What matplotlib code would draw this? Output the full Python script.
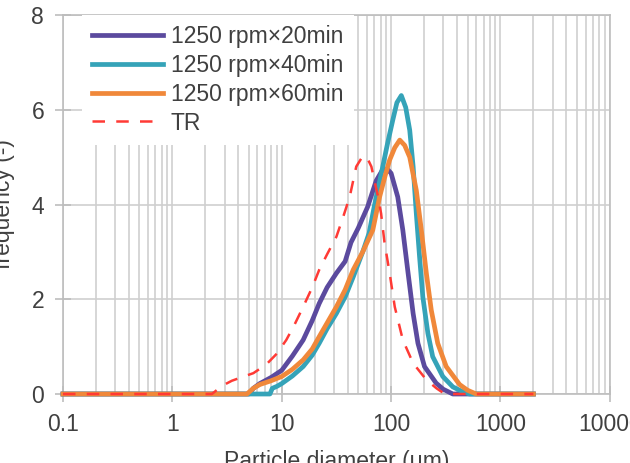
import matplotlib
matplotlib.use("Agg")
import matplotlib.pyplot as plt
from matplotlib.ticker import FixedLocator, FixedFormatter, LogLocator, NullFormatter

plt.rcParams['font.family'] = ['Liberation Sans', 'DejaVu Sans']

# particle size distributions
d_20 = [0.1, 5.0, 5.5, 6.3, 8, 10, 12.5, 15.7, 19, 22, 26, 31.6, 38, 43, 50, 61, 73, 83,
        92, 100, 115, 128, 143, 159, 176, 202, 258, 300, 367, 2000]
f_20 = [0, 0, 0.12, 0.22, 0.35, 0.5, 0.8, 1.14, 1.55, 1.91, 2.25, 2.55, 2.8, 3.2, 3.5, 3.95,
        4.5, 4.72, 4.75, 4.66, 4.16, 3.46, 2.55, 1.7, 1.07, 0.58, 0.23, 0.1, 0, 0]

d_40 = [0.1, 7.8, 8.2, 9, 10, 12.5, 15.7, 19, 22, 26, 31.6, 38, 45, 55, 63, 70, 83, 93,
        104, 113, 124, 136, 148, 159, 170, 182, 195, 217, 240, 297, 367, 440, 521, 2000]
f_40 = [0, 0, 0.12, 0.16, 0.22, 0.38, 0.58, 0.82, 1.07, 1.38, 1.7, 2.05, 2.47, 3.0, 3.4,
        3.95, 4.75, 5.3, 5.8, 6.15, 6.3, 6.05, 5.57, 4.8, 3.81, 2.9, 2.05, 1.28, 0.79, 0.37,
        0.15, 0.06, 0, 0]

d_60 = [0.1, 4.8, 5.5, 6.3, 8, 10, 12.5, 15.7, 19, 22, 26, 31.6, 38, 45, 55, 68, 78.5, 88,
        97, 108, 120, 133, 148, 170, 189, 210, 233, 267, 319, 423, 500, 600, 2000]
f_60 = [0, 0, 0.12, 0.2, 0.28, 0.37, 0.52, 0.72, 0.95, 1.21, 1.5, 1.84, 2.2, 2.62, 3.0, 3.46,
        4.16, 4.6, 4.94, 5.2, 5.36, 5.25, 5.0, 4.3, 3.46, 2.55, 1.77, 1.07, 0.58, 0.2, 0.08,
        0, 0]

d_tr = [0.1, 2.3, 2.6, 3.0, 3.5, 4.5, 5.5, 7.2, 9, 11, 13, 15.7, 19, 22, 26, 31.6, 36, 41.8,
        48, 55, 60, 66, 76, 81, 87, 97, 108, 128, 159, 210, 260, 310, 2000]
f_tr = [0, 0, 0.1, 0.2, 0.28, 0.37, 0.44, 0.62, 0.85, 1.14, 1.45, 1.84, 2.25, 2.62, 2.95,
        3.32, 3.7, 4.16, 4.8, 5.02, 5.0, 4.8, 4.16, 3.81, 3.2, 2.55, 1.84, 1.14, 0.65, 0.3,
        0.12, 0, 0]

labels = ['1250 rpm×20min', '1250 rpm×40min', '1250 rpm×60min', 'TR']
x_ticks = [0.1, 1, 10, 100, 1000, 10000]
x_ticklabels = ['0.1', '1', '10', '100', '1000', '10000']
y_ticks = [0, 2, 4, 6, 8]

txt = '#404040'
grid_c = '#CFCFCF'
fs = 16.5

fig = plt.figure(figsize=(6.3, 4.63), dpi=100)
ax = fig.add_axes([0.1, 0.149, 0.868, 0.8186])

ax.plot(d_20, f_20, color='#5B4A9E', lw=3.4, label=labels[0], clip_on=False, zorder=3)
ax.plot(d_40, f_40, color='#35A3B8', lw=3.4, label=labels[1], clip_on=False, zorder=3)
ax.plot(d_60, f_60, color='#F0883A', lw=3.4, label=labels[2], clip_on=False, zorder=3)
ax.plot(d_tr, f_tr, color='#FF3A35', lw=1.8, ls=(0, (5, 4.5)), label=labels[3],
        clip_on=False, zorder=4)

ax.set_xscale('log')
ax.set_xlim(0.1, 10000)
ax.set_ylim(0, 8)
ax.xaxis.set_major_locator(FixedLocator(x_ticks))
ax.xaxis.set_major_formatter(FixedFormatter(x_ticklabels))
ax.xaxis.set_minor_locator(LogLocator(base=10, subs=range(2, 10)))
ax.xaxis.set_minor_formatter(NullFormatter())
ax.set_yticks(y_ticks)

ax.grid(True, which='major', color=grid_c, lw=1.2)
ax.grid(True, which='minor', axis='x', color=grid_c, lw=1.2)
ax.set_axisbelow(True)
for s in ax.spines.values():
    s.set_color('#BDBDBD')
    s.set_linewidth(1.2)

ax.tick_params(which='major', direction='inout', length=11, width=1.2, color='#BDBDBD',
               labelsize=fs, labelcolor=txt, pad=8)
ax.tick_params(which='minor', length=0)

ax.set_xlabel('Particle diameter (μm)', fontsize=fs, color=txt, va='top')
ax.xaxis.set_label_coords(0.5, -0.148)
ax.set_ylabel('frequency (-)', fontsize=fs, color=txt)
ax.yaxis.set_label_coords(-0.088, 0.5)

leg = ax.legend(loc='upper left', bbox_to_anchor=(0.034, 1.0), borderaxespad=0,
                fontsize=fs, frameon=True, fancybox=False, framealpha=1,
                facecolor='white', edgecolor='none', handlelength=3.1,
                handletextpad=0.34, labelspacing=0.25, borderpad=0.45)
for t in leg.get_texts():
    t.set_color(txt)

fig.savefig('out.png', dpi=100)
